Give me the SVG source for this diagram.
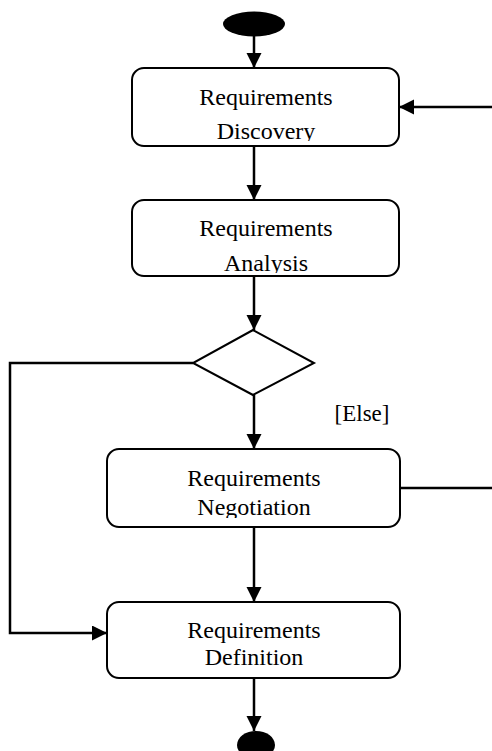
<svg xmlns="http://www.w3.org/2000/svg" width="492" height="751" viewBox="0 0 492 751">
<style>
.box{fill:#fff;stroke:#000;stroke-width:2}
.txt{font-family:"Liberation Serif","Times New Roman",serif;font-size:24px;fill:#000;text-anchor:middle}
.ln{fill:none;stroke:#000;stroke-width:2.5}
</style>
<defs>
<marker id="ah" markerUnits="userSpaceOnUse" markerWidth="16" markerHeight="16" refX="15" refY="7.5" orient="auto">
<path d="M0,0 L15,7.5 L0,15 z" fill="#000"/>
</marker>
<clipPath id="c1"><rect x="132" y="68" width="267" height="73"/></clipPath>
<clipPath id="c2"><rect x="132" y="200" width="267" height="73"/></clipPath>
<clipPath id="c3"><rect x="107" y="449" width="293" height="69"/></clipPath>
<clipPath id="c4"><rect x="107" y="602" width="293" height="76"/></clipPath>
</defs>
<g id="connectors">
<line class="ln" x1="254" y1="36" x2="254" y2="68" marker-end="url(#ah)"/>
<line class="ln" x1="492" y1="107" x2="399" y2="107" marker-end="url(#ah)"/>
<line class="ln" x1="254" y1="146" x2="254" y2="200" marker-end="url(#ah)"/>
<line class="ln" x1="254" y1="276" x2="254" y2="330" marker-end="url(#ah)"/>
<line class="ln" x1="254" y1="395" x2="254" y2="449" marker-end="url(#ah)"/>
<polyline class="ln" points="193,363 10,363 10,633 107,633" marker-end="url(#ah)"/>
<line class="ln" x1="400" y1="488" x2="492" y2="488"/>
<line class="ln" x1="254" y1="527" x2="254" y2="602" marker-end="url(#ah)"/>
<line class="ln" x1="254" y1="678" x2="254" y2="731" marker-end="url(#ah)"/>
<text x="362" y="421" class="txt" style="font-size:23px">[Else]</text>
</g>
<g id="start"><ellipse cx="254" cy="24" rx="31" ry="12.5" fill="#000"/></g>
<g id="discovery">
<rect class="box" x="132" y="68" width="267" height="78" rx="12"/>
<g clip-path="url(#c1)"><text class="txt" x="266" y="105">Requirements</text><text class="txt" x="266" y="139">Discovery</text></g>
</g>
<g id="analysis">
<rect class="box" x="132" y="200" width="267" height="76" rx="12"/>
<g clip-path="url(#c2)"><text class="txt" x="266" y="236">Requirements</text><text class="txt" x="266" y="271">Analysis</text></g>
</g>
<g id="decision"><polygon points="253,330 314,363 253,395 193,363" fill="#fff" stroke="#000" stroke-width="2"/></g>
<g id="negotiation">
<rect class="box" x="107" y="449" width="293" height="78" rx="12"/>
<g clip-path="url(#c3)"><text class="txt" x="254" y="486">Requirements</text><text class="txt" x="254" y="515">Negotiation</text></g>
</g>
<g id="definition">
<rect class="box" x="107" y="602" width="293" height="76" rx="12"/>
<g clip-path="url(#c4)"><text class="txt" x="254" y="638">Requirements</text><text class="txt" x="254" y="665">Definition</text></g>
</g>
<g id="end"><ellipse cx="256" cy="745" rx="19" ry="14" fill="#000"/></g>
</svg>
